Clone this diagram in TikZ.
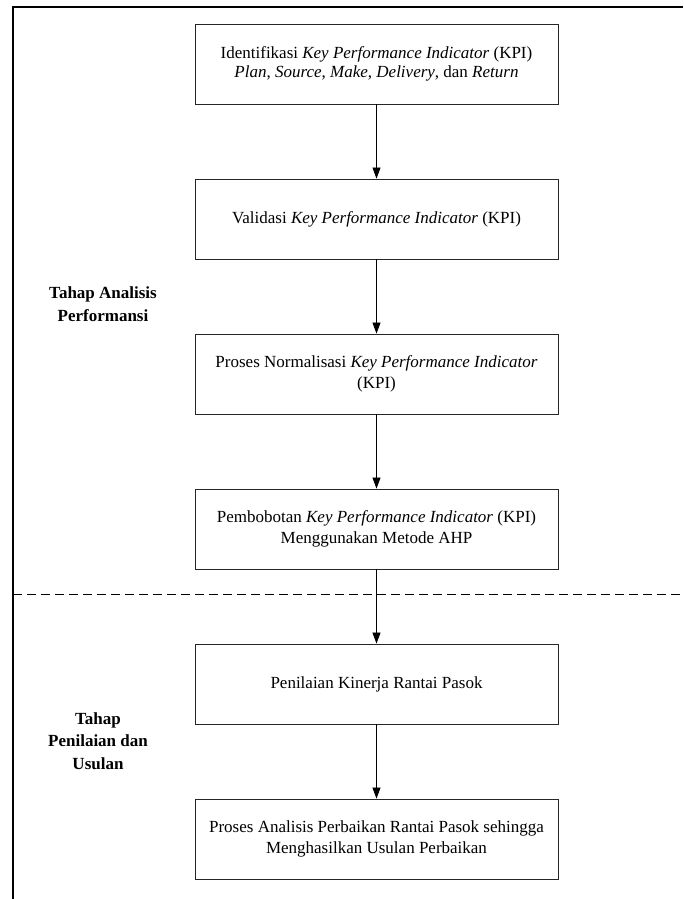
\documentclass[tikz,border=0pt]{standalone}
\usepackage{fontspec}
\setmainfont{Liberation Serif}
\usetikzlibrary{arrows.meta}
\begin{document}
\begin{tikzpicture}[x=1pt,y=-1pt,
  procbox/.style={draw=black!85, line width=0.9pt, minimum width=363pt, minimum height=80pt,
    align=center, inner sep=0pt, font=\fontsize{17}{21}\selectfont},
  phaselabel/.style={align=center, font=\fontsize{17}{22.5}\selectfont\bfseries},
  flow/.style={line width=0.8pt, -{Triangle[length=11pt,width=8pt]}},
  frame/.style={line width=1.2pt}]
\useasboundingbox (0,0) rectangle (683,899);
\coordinate (tl) at (13,7);
\coordinate (tr) at (683,7);
\coordinate (bl) at (13,899);
\coordinate (dl) at (13,594);
\coordinate (dr) at (683,594);
\draw[frame] (tr) -- (tl) -- (bl);
\draw[line width=0.8pt, dash pattern=on 9pt off 5pt] (dl) -- (dr);

\node[procbox, font=\fontsize{17}{19}\selectfont] (b1) at (376.5,64) {Identifikasi \textit{Key Performance Indicator} (KPI)\\\textit{Plan}, \textit{Source}, \textit{Make}, \textit{Delivery}, dan \textit{Return}};
\node[procbox] (b2) at (376.5,219) {Validasi \textit{Key Performance Indicator} (KPI)};
\node[procbox] (b3) at (376.5,374) {Proses Normalisasi \textit{Key Performance Indicator}\\(KPI)};
\node[procbox] (b4) at (376.5,529) {Pembobotan \textit{Key Performance Indicator} (KPI)\\Menggunakan Metode AHP};
\node[procbox] (b5) at (376.5,684) {Penilaian Kinerja Rantai Pasok};
\node[procbox] (b6) at (376.5,839) {Proses Analisis Perbaikan Rantai Pasok sehingga\\Menghasilkan Usulan Perbaikan};

\node[phaselabel] (l1) at (103,304) {Tahap Analisis\\Performansi};
\node[phaselabel] (l2) at (98,741) {Tahap\\Penilaian dan\\Usulan};

\draw[flow] (b1) -- (b2);
\draw[flow] (b2) -- (b3);
\draw[flow] (b3) -- (b4);
\draw[flow] (b4) -- (b5);
\draw[flow] (b5) -- (b6);
\end{tikzpicture}
\end{document}
